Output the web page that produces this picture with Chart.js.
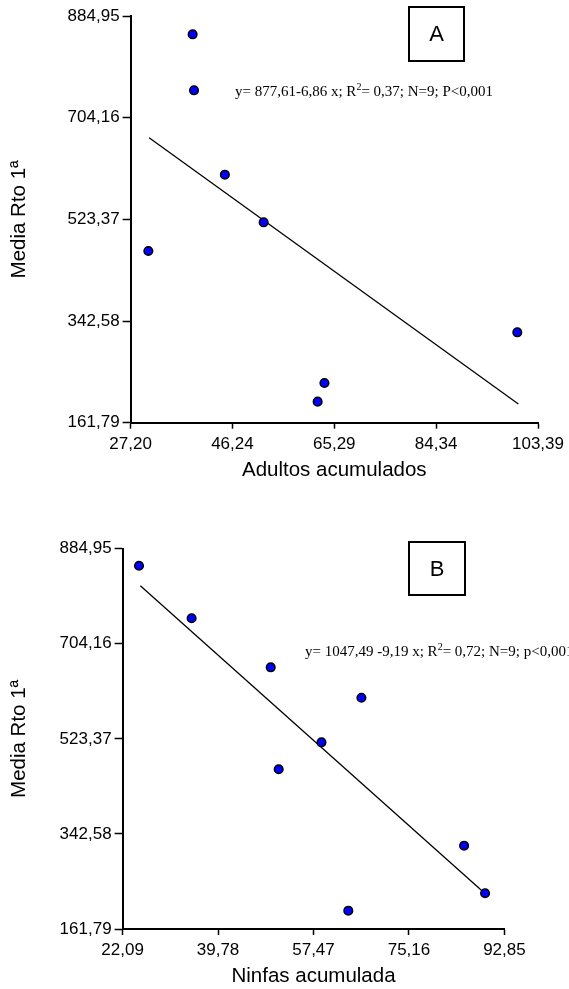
<!DOCTYPE html>
<html>
<head>
<meta charset="utf-8">
<script src="https://cdn.jsdelivr.net/npm/chart.js@4.4.1/dist/chart.umd.min.js"></script>
<style>
  html, body { margin: 0; padding: 0; background: #fff; }
  body { width: 569px; height: 989px; position: relative; overflow: hidden; }
  canvas { position: absolute; left: 0; }
  #chartA { top: 0; }
  #chartB { top: 500px; }
</style>
</head>
<body>
<canvas id="chartA" width="569" height="495"></canvas>
<canvas id="chartB" width="569" height="489"></canvas>
<script>
// panel A: adultos acumulados
const adultosX = [38.8, 39.06, 44.83, 52.08, 30.52, 99.52, 63.45, 62.18];
const adultosY = [852.4, 752.8, 602.8, 518.1, 467.1, 322.5, 232.4, 199.2];
const adultosFitX = [30.66, 99.72];
const adultosFitY = [668.5, 195.0];
const adultosTicks = [27.20, 46.24, 65.29, 84.34, 103.39];
const eqA = ["y= 877,61-6,86 x; R", "2", "= 0,37; N=9; P<0,001"];

// panel B: ninfas acumulada
const ninfasX = [25.13, 34.88, 49.54, 66.35, 58.95, 51.02, 85.38, 89.27, 63.92];
const ninfasY = [852.6, 752.6, 659.4, 601.6, 516.8, 465.5, 320.2, 229.7, 196.6];
const ninfasFitX = [25.38, 89.0];
const ninfasFitY = [814.6, 231.6];
const ninfasTicks = [22.09, 39.78, 57.47, 75.16, 92.85];
const eqB = ["y= 1047,49 -9,19 x; R", "2", "= 0,72; N=9; p<0,001"];

// shared y axis
const rtoTicks = [161.79, 342.58, 523.37, 704.16, 884.95];
const yTitle = "Media Rto 1ª";

const fmt = v => v.toFixed(2).replace(".", ",");
const pts = (xs, ys) => xs.map((x, i) => ({x: x, y: ys[i]}));

Chart.defaults.font.family = '"Liberation Sans", Arial, sans-serif';
Chart.defaults.color = "#000";

// box with panel letter + regression text
const panelNote = {
  id: "panelNote",
  afterDraw(chart, args, o) {
    const ctx = chart.ctx;
    ctx.save();
    ctx.strokeStyle = "#000";
    ctx.lineWidth = 2;
    ctx.strokeRect(o.box[0], o.box[1], o.box[2], o.box[3]);
    ctx.fillStyle = "#000";
    ctx.font = '22px "Liberation Sans", Arial, sans-serif';
    ctx.textAlign = "center";
    ctx.textBaseline = "middle";
    ctx.fillText(o.letter, o.box[0] + o.box[2] / 2, o.box[1] + o.box[3] / 2 + 1);

    ctx.textAlign = "left";
    ctx.textBaseline = "alphabetic";
    let x = o.eqPos[0];
    const y = o.eqPos[1];
    ctx.font = '15px "Liberation Serif", "Times New Roman", serif';
    ctx.fillText(o.eq[0], x, y);
    x += ctx.measureText(o.eq[0]).width;
    ctx.font = '10px "Liberation Serif", "Times New Roman", serif';
    ctx.fillText(o.eq[1], x, y - 6);
    x += ctx.measureText(o.eq[1]).width;
    ctx.font = '15px "Liberation Serif", "Times New Roman", serif';
    ctx.fillText(o.eq[2], x, y);
    ctx.restore();
  }
};

function makePanel(id, c) {
  return new Chart(document.getElementById(id), {
    type: "scatter",
    data: {
      datasets: [
        {
          data: pts(c.xs, c.ys),
          backgroundColor: "#0000ff",
          borderColor: "#000",
          borderWidth: 1.5,
          pointRadius: 4.3,
          showLine: false
        },
        {
          type: "line",
          data: pts(c.fitX, c.fitY),
          borderColor: "#000",
          borderWidth: 1.3,
          pointRadius: 0,
          fill: false,
          tension: 0
        }
      ]
    },
    options: {
      responsive: false,
      animation: false,
      devicePixelRatio: 1,
      layout: { padding: c.pad },
      plugins: {
        legend: { display: false },
        tooltip: { enabled: false },
        panelNote: c.note
      },
      scales: {
        x: {
          type: "linear",
          min: c.xTicks[0],
          max: c.xTicks[c.xTicks.length - 1],
          afterBuildTicks: s => { s.ticks = c.xTicks.map(v => ({value: v})); },
          afterFit: s => { s.height = c.xH; },
          grid: { display: true, drawOnChartArea: false, drawTicks: true, tickLength: 6, tickWidth: 1.5, tickColor: "#000" },
          border: { display: true, color: "#000", width: 2 },
          ticks: { font: { size: 17 }, padding: 5, maxRotation: 0, autoSkip: false, callback: v => fmt(v) },
          title: { display: true, text: c.xTitle, font: { size: 20.5 }, padding: { top: 0, bottom: c.xTitlePad } }
        },
        y: {
          type: "linear",
          min: rtoTicks[0],
          max: rtoTicks[rtoTicks.length - 1],
          afterBuildTicks: s => { s.ticks = rtoTicks.map(v => ({value: v})); },
          afterFit: s => { s.width = c.yW; },
          grid: { display: true, drawOnChartArea: false, drawTicks: true, tickLength: 8, tickWidth: 1.5, tickColor: "#000" },
          border: { display: true, color: "#000", width: 2 },
          ticks: { font: { size: 17 }, padding: 3, autoSkip: false, callback: v => fmt(v) },
          title: { display: true, text: yTitle, font: { size: 20.5 }, padding: { top: 7.5, bottom: 0 } }
        }
      }
    },
    plugins: [panelNote]
  });
}

makePanel("chartA", {
  xs: adultosX, ys: adultosY, fitX: adultosFitX, fitY: adultosFitY,
  xTicks: adultosTicks, xTitle: "Adultos acumulados",
  pad: { top: 16, right: 30.5, left: 0, bottom: 0 },
  yW: 130.6, xH: 72.3, xTitlePad: 12,
  note: { letter: "A", box: [409, 7, 55, 54], eq: eqA, eqPos: [235, 95.5] }
});

makePanel("chartB", {
  xs: ninfasX, ys: ninfasY, fitX: ninfasFitX, fitY: ninfasFitY,
  xTicks: ninfasTicks, xTitle: "Ninfas acumulada",
  pad: { top: 48.7, right: 64.6, left: 0, bottom: 0 },
  yW: 122.6, xH: 60, xTitlePad: 0,
  note: { letter: "B", box: [409, 42, 56, 53], eq: eqB, eqPos: [305, 155.7] }
});
</script>
</body>
</html>
